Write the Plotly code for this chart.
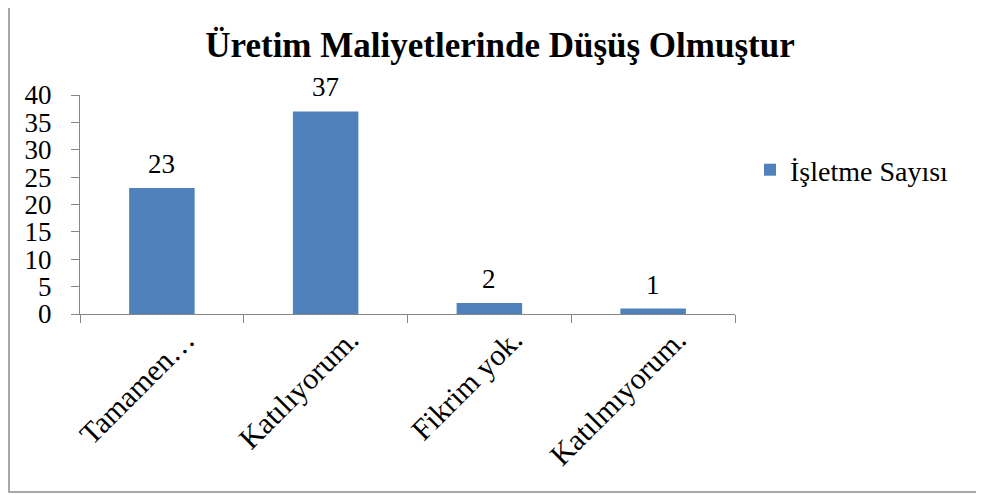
import plotly.graph_objects as go

categories = ["Tamamen…", "Katılıyorum.", "Fikrim yok.", "Katılmıyorum."]
values = [23, 37, 2, 1]
series_name = "İşletme Sayısı"
title_text = "Üretim Maliyetlerinde Düşüş Olmuştur"
ytick_vals = [0, 5, 10, 15, 20, 25, 30, 35, 40]

FONT = "'Times New Roman', 'Liberation Serif', 'DejaVu Serif', serif"
BAR = "#4F81BD"
AXIS = "#868686"

OFF = 8  # page body margin
W, H = 984 - OFF, 495 - OFF
L, T = 80 - OFF, 95 - OFF
R = W - (735 - OFF)
B = H - (314 - OFF)
pw = W - L - R
ph = H - T - B

fig = go.Figure()
fig.add_trace(go.Bar(
    x=categories, y=values, name=series_name,
    marker=dict(color=BAR, line=dict(width=0)),
    showlegend=True,
))

for c, v in zip(categories, values):
    fig.add_annotation(x=c, y=v, text=str(v), showarrow=False,
                       yanchor="bottom", yshift=7,
                       font=dict(family=FONT, size=27, color="black"))

fig.update_layout(
    width=W, height=H,
    margin=dict(l=L, r=R, t=T, b=B, autoexpand=False),
    paper_bgcolor="white", plot_bgcolor="white",
    font=dict(family=FONT, size=27, color="black"),
    bargap=0.6,
    title=dict(text="<b>" + title_text + "</b>", x=(500 - OFF) / W, xanchor="center",
               y=1 - (45 - OFF) / H, yanchor="middle",
               font=dict(family=FONT, size=35, color="black")),
    legend=dict(x=(750 - 80) / pw, xanchor="left", y=(314 - 170) / ph, yanchor="middle",
                font=dict(family=FONT, size=28, color="black"),
                bgcolor="rgba(0,0,0,0)", itemwidth=30),
    xaxis=dict(showline=True, linecolor=AXIS, linewidth=1.3,
               ticks="outside", tickson="boundaries", ticklen=8, tickcolor=AXIS,
               tickwidth=1.3, tickangle=-45, showgrid=False, ticklabelshift=24,
               ticklabelstandoff=-5,
               tickfont=dict(family=FONT, size=30, color="black")),
    yaxis=dict(range=[0, 40], tickvals=ytick_vals, showline=True, linecolor=AXIS,
               linewidth=1.3, ticks="outside", ticklen=8, tickcolor=AXIS, tickwidth=1.3,
               showgrid=False, zeroline=False, ticklabelstandoff=14,
               tickfont=dict(family=FONT, size=27, color="black")),
)

# outer chart frame
fig.add_shape(type="rect", xref="paper", yref="paper",
              x0=(9 - 80) / pw, x1=(978 - 80) / pw,
              y0=(314 - 492) / ph, y1=(314 - 3) / ph,
              line=dict(color="#8c8c8c", width=1.5), fillcolor="rgba(0,0,0,0)", layer="below")

fig.write_html("out.html")
